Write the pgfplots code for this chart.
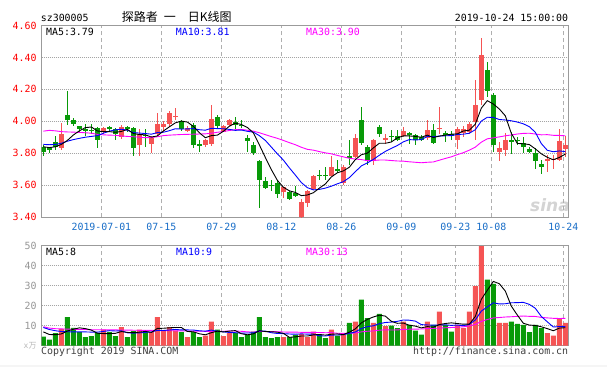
\documentclass[border=0pt]{standalone}
\usepackage{pgfplots}
\pgfplotsset{compat=1.18}
\usepackage{pgfplotstable}
\usepackage{fontspec}
\setmainfont{DejaVu Sans}
\newfontfamily\monofont{DejaVu Sans Mono}
\newfontfamily\cjk{Noto Sans CJK SC}
\newcommand\mono{\monofont\fontsize{9.9bp}{11bp}\selectfont}
\definecolor{cred}{RGB}{245,84,84}
\definecolor{cgreen}{RGB}{8,154,8}
\definecolor{tickred}{RGB}{255,0,0}
\definecolor{dateblue}{RGB}{25,110,200}
\definecolor{framegray}{RGB}{155,155,155}
\definecolor{gridgray}{RGB}{165,165,165}
\definecolor{dashgray}{RGB}{175,175,175}
\definecolor{volgray}{RGB}{150,150,150}
\definecolor{mablue}{RGB}{0,0,255}
\definecolor{mamag}{RGB}{255,0,255}

% red (up) days: index, open, high, low, close, volume (x10^4)
\pgfplotstableread{
i o h l c v
-7 3.83 3.99 3.82 3.92 8.3
0 3.93 3.965 3.92 3.96 8.0
3 3.90 3.975 3.89 3.965 9.2
6 3.85 3.95 3.78 3.92 8.0
8 3.855 3.905 3.80 3.895 6.7
9 3.92 4.05 3.91 3.985 14.2
10 3.965 4.00 3.93 3.985 7.5
11 3.98 4.065 3.965 4.05 9.2
12 4.03 4.08 4.01 4.035 7.5
14 3.94 3.97 3.93 3.955 4.2
17 3.85 3.89 3.84 3.88 5.0
18 3.855 4.10 3.845 4.015 12.0
20 3.935 3.975 3.93 3.97 4.7
21 3.975 4.015 3.97 4.01 6.3
30 3.555 3.59 3.52 3.585 4.2
33 3.40 3.51 3.395 3.496 5.8
34 3.486 3.57 3.46 3.564 4.2
35 3.575 3.663 3.567 3.657 7.0
38 3.66 3.78 3.655 3.715 8.0
40 3.615 3.725 3.60 3.715 5.3
42 3.778 3.92 3.768 3.898 12.0
45 3.757 3.89 3.727 3.88 11.3
47 3.88 3.923 3.86 3.897 9.7
50 3.906 3.965 3.902 3.94 12.0
54 3.898 4.006 3.88 3.944 12.0
56 3.955 4.09 3.923 3.96 17.0
59 3.885 3.965 3.829 3.954 10.3
60 3.927 3.97 3.90 3.954 8.7
61 3.933 3.995 3.92 3.985 17.0
62 3.998 4.26 3.88 4.10 29.7
63 4.135 4.52 4.10 4.415 49.7
66 3.805 3.873 3.748 3.83 11.3
67 3.817 3.925 3.78 3.883 11.3
74 3.748 3.79 3.685 3.762 6.2
75 3.76 3.79 3.70 3.765 5.0
76 3.758 3.95 3.75 3.877 13.3
77 3.827 3.908 3.775 3.852 11.3
}\redtab

% green (down) days
\pgfplotstableread{
i o h l c v
-10 3.84 3.85 3.78 3.81 4.5
-9 3.83 3.84 3.80 3.82 3.0
-8 3.87 3.91 3.82 3.84 6.2
-6 4.04 4.19 3.975 4.01 14.2
-5 4.01 4.02 3.97 3.98 8.8
-4 3.97 3.97 3.93 3.95 6.7
-3 3.95 3.98 3.91 3.94 4.2
-2 3.945 3.98 3.92 3.94 4.7
-1 3.96 3.965 3.83 3.885 6.3
1 3.965 3.97 3.94 3.95 6.7
2 3.95 3.96 3.885 3.92 4.7
4 3.965 3.97 3.935 3.95 4.2
5 3.96 3.965 3.78 3.83 7.2
7 3.915 3.95 3.84 3.91 6.7
13 4.00 4.01 3.94 3.95 6.7
15 3.975 3.99 3.83 3.85 6.7
16 3.855 3.885 3.81 3.85 4.2
19 4.025 4.04 3.96 3.97 8.0
22 3.996 4.027 3.954 3.975 6.3
23 3.975 4.006 3.96 3.973 4.2
24 3.892 3.913 3.809 3.878 5.3
25 3.851 3.871 3.788 3.803 7.0
26 3.751 3.757 3.456 3.629 14.2
27 3.627 3.65 3.575 3.58 4.2
28 3.60 3.63 3.56 3.595 3.7
29 3.615 3.625 3.52 3.545 4.2
31 3.555 3.56 3.505 3.515 4.2
32 3.55 3.595 3.525 3.53 5.3
36 3.665 3.695 3.635 3.66 5.3
37 3.665 3.715 3.633 3.66 3.7
39 3.70 3.76 3.675 3.695 5.0
41 3.78 3.88 3.725 3.775 11.3
43 4.005 4.09 3.85 3.865 23.0
44 3.84 3.85 3.727 3.748 13.7
46 3.965 3.975 3.903 3.918 15.8
48 3.91 3.945 3.87 3.905 10.0
49 3.905 3.948 3.877 3.88 8.7
51 3.927 3.933 3.86 3.915 10.3
52 3.912 3.919 3.85 3.882 7.5
53 3.902 3.913 3.875 3.882 5.5
55 3.944 3.985 3.86 3.865 10.3
57 3.927 3.94 3.87 3.913 10.3
58 3.918 3.94 3.88 3.915 7.0
64 4.32 4.37 4.155 4.19 33.0
65 4.165 4.18 3.81 3.852 30.8
68 3.883 3.935 3.796 3.867 12.0
69 3.885 3.90 3.85 3.875 10.8
70 3.862 3.90 3.804 3.838 10.3
71 3.825 3.84 3.80 3.808 6.7
72 3.80 3.83 3.70 3.748 10.3
73 3.733 3.758 3.67 3.712 8.7
}\greentab

% moving averages: price MA5, MA10, MA30; volume MA5, MA10, MA30
\pgfplotstableread{
i m5 m10 m30 v5 v10 v30
-10 3.840 3.855 3.938 6.8 9.0 9.4
-9 3.835 3.853 3.943 5.5 8.0 8.7
-8 3.840 3.855 3.940 5.4 7.4 8.4
-7 3.855 3.862 3.935 5.8 7.0 8.3
-6 3.880 3.875 3.933 7.24 6.9 8.2
-5 3.914 3.885 3.932 8.10 6.8 8.1
-4 3.940 3.893 3.930 8.84 6.8 8.0
-3 3.960 3.900 3.928 8.44 6.8 8.0
-2 3.964 3.905 3.925 7.72 6.7 7.9
-1 3.939 3.910 3.918 6.14 6.69 7.9
0 3.935 3.925 3.915 5.98 7.04 7.85
1 3.935 3.938 3.913 5.98 7.41 7.8
2 3.931 3.946 3.912 6.08 7.26 7.8
3 3.936 3.950 3.908 6.98 7.35 7.75
4 3.949 3.944 3.905 6.56 6.35 7.7
5 3.923 3.929 3.903 6.40 6.19 7.65
6 3.917 3.926 3.900 6.66 6.32 7.6
7 3.915 3.923 3.897 7.06 6.57 7.6
8 3.901 3.919 3.898 6.56 6.77 7.55
9 3.908 3.929 3.903 8.56 7.56 7.5
10 3.939 3.931 3.910 8.62 7.51 7.45
11 3.965 3.941 3.913 8.86 7.76 7.4
12 3.990 3.953 3.915 9.02 8.04 7.35
13 4.001 3.951 3.917 9.02 7.79 7.3
14 3.995 3.952 3.918 7.02 7.79 7.25
15 3.968 3.954 3.919 6.86 7.74 7.2
16 3.928 3.947 3.920 5.86 7.36 7.15
17 3.897 3.944 3.921 5.36 7.19 7.1
18 3.910 3.956 3.925 6.42 7.72 7.1
19 3.913 3.954 3.931 7.18 7.10 7.12
20 3.937 3.953 3.936 6.78 6.82 7.12
21 3.969 3.949 3.942 7.20 6.53 7.23
22 3.988 3.943 3.947 7.46 6.41 7.24
23 3.980 3.945 3.949 5.90 6.16 7.10
24 3.961 3.937 3.944 5.36 6.27 6.80
25 3.928 3.932 3.938 5.82 6.30 6.74
26 3.852 3.910 3.928 7.40 7.30 6.99
27 3.773 3.880 3.916 6.98 7.22 6.99
28 3.697 3.838 3.904 6.88 6.39 6.96
29 3.630 3.796 3.893 6.66 6.01 6.89
30 3.587 3.757 3.880 6.10 5.96 6.76
31 3.564 3.708 3.866 4.10 5.75 6.68
32 3.554 3.663 3.853 4.32 5.65 6.70
33 3.534 3.616 3.837 4.74 5.81 6.59
34 3.538 3.584 3.824 4.74 5.70 6.59
35 3.552 3.570 3.819 5.30 5.70 6.58
36 3.581 3.573 3.810 5.52 4.81 6.49
37 3.607 3.581 3.802 5.20 4.76 6.39
38 3.651 3.593 3.796 5.64 5.19 6.43
39 3.677 3.608 3.786 5.80 5.27 6.13
40 3.689 3.621 3.777 5.46 5.38 6.05
41 3.712 3.647 3.768 6.66 6.09 6.12
42 3.760 3.684 3.763 8.32 6.76 6.27
43 3.790 3.720 3.760 11.32 8.48 6.82
44 3.800 3.739 3.753 13.06 9.43 7.13
45 3.833 3.761 3.754 14.26 9.86 7.29
46 3.862 3.787 3.757 15.16 10.91 7.67
47 3.862 3.811 3.757 14.70 11.51 7.83
48 3.870 3.830 3.754 12.10 11.71 7.76
49 3.896 3.848 3.751 11.10 12.08 7.79
50 3.908 3.871 3.750 11.24 12.75 8.03
51 3.908 3.885 3.746 10.14 12.65 8.16
52 3.905 3.883 3.743 9.70 12.20 8.20
53 3.900 3.885 3.740 8.80 10.45 8.25
54 3.913 3.905 3.743 9.46 10.28 8.47
55 3.898 3.903 3.745 9.12 10.18 8.58
56 3.907 3.907 3.756 10.46 10.30 8.67
57 3.913 3.909 3.767 11.02 10.36 8.88
58 3.919 3.910 3.777 11.32 10.06 8.99
59 3.921 3.917 3.791 10.98 10.22 9.19
60 3.939 3.919 3.803 10.66 9.89 9.34
61 3.944 3.925 3.819 10.66 10.56 9.77
62 3.982 3.947 3.838 14.54 12.78 10.58
63 4.082 4.001 3.869 23.08 17.20 12.04
64 4.129 4.025 3.890 27.62 19.30 13.00
65 4.108 4.024 3.896 32.04 21.35 13.80
66 4.077 4.011 3.902 30.90 20.78 14.00
67 4.034 4.008 3.909 27.22 20.88 14.25
68 3.924 4.003 3.914 19.68 21.38 14.38
69 3.861 3.995 3.920 15.24 21.43 14.58
70 3.859 3.984 3.924 11.14 21.59 14.74
71 3.854 3.966 3.925 10.22 20.56 14.59
72 3.827 3.931 3.920 10.02 18.62 14.53
73 3.796 3.860 3.915 9.36 14.52 14.06
74 3.774 3.818 3.916 8.44 11.84 13.81
75 3.759 3.809 3.912 7.38 9.26 13.60
76 3.773 3.814 3.911 8.70 9.46 13.51
77 3.794 3.810 3.909 8.90 9.46 13.57
}\matab

\pgfplotsset{
  sinapanel/.style={
    scale only axis, width=526.6bp,
    xmin=-10.28, xmax=77.5,
    axis line style={draw=framegray, line width=1bp},
    major tick length=0pt,
    xtick={-0.33,9.67,19.67,29.67,39.67,49.67,58.67,64.67,76.67},
    ymajorgrids, xmajorgrids,
    y grid style={draw=gridgray, line width=1bp, dash pattern=on 1bp off 1bp},
    x grid style={draw=dashgray, line width=1bp, dash pattern=on 4bp off 3bp},
    yticklabel style={font=\mono, anchor=east, inner sep=0pt, xshift=-5bp},
    xticklabel style={font=\mono, text=dateblue, anchor=north, inner sep=0pt, yshift=-6bp},
  },
  wick/.style={draw=none, mark=none, forget plot,
    error bars/.cd, y dir=both, y explicit, error mark=none,
    error bar style={draw=#1, line width=1bp}},
  body/.style={draw=none, mark=none, forget plot,
    error bars/.cd, y dir=both, y explicit, error mark=none,
    error bar style={draw=#1, line width=5bp}},
}

\begin{document}
\begin{tikzpicture}[x=1bp,y=1bp]
\fill[white] (0,0) rectangle (607,-367);
\fill[black!4] (0,-364.5) rectangle (607,-367);

% watermark
\node[inner sep=0pt, font=\bfseries\itshape\fontsize{17bp}{17bp}\selectfont, text=black!17] at (550,-205) {sina};

% ---------------- price panel ----------------
\begin{axis}[sinapanel,
  at={(41.7bp,-25.5bp)}, anchor=north west, height=191.5bp,
  ymin=3.4, ymax=4.6,
  ytick={3.4,3.6,3.8,4.0,4.2,4.4,4.6},
  yticklabels={3.40,3.60,3.80,4.00,4.20,4.40,4.60},
  yticklabel style={text=tickred},
  xticklabels={2019-07-01,07-15,07-29,08-12,08-26,09-09,09-23,10-08,10-24},
]
\addplot[wick=cred] table[x=i, y expr={(\thisrow{h}+\thisrow{l})/2}, y error expr={(\thisrow{h}-\thisrow{l})/2}] {\redtab};
\addplot[body=cred] table[x=i, y expr={(\thisrow{o}+\thisrow{c})/2}, y error expr={max(abs(\thisrow{c}-\thisrow{o})/2,0.0032)}] {\redtab};
\addplot[wick=cgreen] table[x=i, y expr={(\thisrow{h}+\thisrow{l})/2}, y error expr={(\thisrow{h}-\thisrow{l})/2}] {\greentab};
\addplot[body=cgreen] table[x=i, y expr={(\thisrow{o}+\thisrow{c})/2}, y error expr={max(abs(\thisrow{c}-\thisrow{o})/2,0.0032)}] {\greentab};
\addplot[mamag, line width=0.9bp, mark=none] table[x=i, y=m30] {\matab};
\addplot[mablue, line width=0.9bp, mark=none] table[x=i, y=m10] {\matab};
\addplot[black, line width=0.9bp, mark=none] table[x=i, y=m5] {\matab};
\end{axis}

% ---------------- volume panel ----------------
\begin{axis}[sinapanel,
  at={(41.7bp,-245.5bp)}, anchor=north west, height=100bp,
  ymin=0, ymax=50,
  ytick={0,10,20,30,40,50},
  yticklabels={{\color{black!28}\fontsize{8bp}{9bp}\selectfont x\cjk 万},10,20,30,40,50},
  yticklabel style={text=volgray},
  xticklabel=\empty,
]
\addplot[ybar, bar width=5bp, bar shift=0pt, fill=cred, draw=none, forget plot] table[x=i, y=v] {\redtab};
\addplot[ybar, bar width=5bp, bar shift=0pt, fill=cgreen, draw=none, forget plot] table[x=i, y=v] {\greentab};
\addplot[mamag, line width=0.9bp, mark=none] table[x=i, y=v30] {\matab};
\addplot[mablue, line width=0.9bp, mark=none] table[x=i, y=v10] {\matab};
\addplot[black, line width=0.9bp, mark=none] table[x=i, y=v5] {\matab};
\end{axis}

% ---------------- texts ----------------
\node[anchor=base west, inner sep=0pt, font=\mono] at (40.7,-21) {sz300005};
\node[anchor=base west, inner sep=0pt, font=\cjk\fontsize{12bp}{14bp}\selectfont] at (121.7,-21.5) {探路者\hspace{6bp}一\hspace{12bp}日K线图};
\node[anchor=base east, inner sep=0pt, font=\mono] at (568.3,-21) {2019-10-24 15:00:00};

\node[anchor=base west, inner sep=0pt, font=\mono, text=black] at (46,-35) {MA5:3.79};
\node[anchor=base west, inner sep=0pt, font=\mono, text=mablue] at (175.7,-35) {MA10:3.81};
\node[anchor=base west, inner sep=0pt, font=\mono, text=mamag] at (306,-35) {MA30:3.90};

\node[anchor=base west, inner sep=0pt, font=\mono, text=black] at (46,-255) {MA5:8};
\node[anchor=base west, inner sep=0pt, font=\mono, text=mablue] at (176,-255) {MA10:9};
\node[anchor=base west, inner sep=0pt, font=\mono, text=mamag] at (306,-255) {MA30:13};

\node[anchor=base west, inner sep=0pt, font=\mono, text=black!75] at (41,-354) {Copyright 2019 SINA.COM};
\node[anchor=base east, inner sep=0pt, font=\mono, text=black!75] at (568.3,-354) {http://finance.sina.com.cn};
\end{tikzpicture}
\end{document}
